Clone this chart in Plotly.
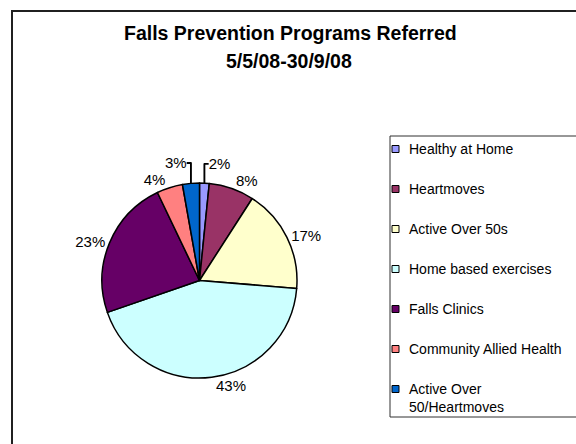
import plotly.graph_objects as go

# Data
labels = ["Healthy at Home", "Heartmoves", "Active Over 50s", "Home based exercises",
          "Falls Clinics", "Community Allied Health", "Active Over 50/Heartmoves"]
legend_text = ["Healthy at Home", "Heartmoves", "Active Over 50s", "Home based exercises",
               "Falls Clinics", "Community Allied Health", "Active Over<br>50/Heartmoves"]
values = [1.6, 7.5, 17.2, 43.4, 23.2, 4.3, 2.8]
colors = ["#9999FF", "#993366", "#FFFFCC", "#CCFFFF", "#660066", "#FF8080", "#0066CC"]
title_lines = ["Falls Prevention Programs Referred", "5/5/08-30/9/08"]

W, H = 576, 444
FONT = "Liberation Sans, Arial, sans-serif"

def px(x):
    return x / W

def py(y):
    return (H - y) / H

fig = go.Figure()
fig.add_trace(go.Pie(
    labels=labels, values=values, sort=False, direction="clockwise", rotation=0,
    marker=dict(colors=colors, line=dict(color="black", width=1.5)),
    texttemplate="%{percent:.0%}", textposition="outside",
    outsidetextfont=dict(family=FONT, size=15, color="black"),
    showlegend=False, hoverinfo="label+percent",
    domain=dict(x=[px(102), px(297)], y=[py(378), py(183)]),
))

shapes = []
annotations = []
# outer border
shapes.append(dict(type="rect", xref="paper", yref="paper",
                   x0=px(12), x1=px(W + 30), y0=py(H + 30), y1=py(11),
                   line=dict(color="#202020", width=2)))
# legend box
shapes.append(dict(type="rect", xref="paper", yref="paper",
                   x0=px(390), x1=px(W + 30), y0=py(417), y1=py(136),
                   line=dict(color="#303030", width=1)))
for i, (t, c) in enumerate(zip(legend_text, colors)):
    yc = 149 + 40 * i
    shapes.append(dict(type="rect", xref="paper", yref="paper",
                       x0=px(392), x1=px(399), y0=py(yc + 3.5), y1=py(yc - 3.5),
                       fillcolor=c, line=dict(color="black", width=1)))
    annotations.append(dict(text=t, xref="paper", yref="paper", x=px(407), y=py(yc - 10),
                            xanchor="left", yanchor="top", align="left", showarrow=False,
                            font=dict(family=FONT, size=14, color="black")))

annotations.append(dict(text="<b>%s</b>" % title_lines[0], xref="paper", yref="paper",
                        x=px(290), y=py(33), xanchor="center", yanchor="middle", showarrow=False,
                        font=dict(family=FONT, size=19.5, color="black")))
annotations.append(dict(text="<b>%s</b>" % title_lines[1], xref="paper", yref="paper",
                        x=px(289), y=py(61), xanchor="center", yanchor="middle", showarrow=False,
                        font=dict(family=FONT, size=19.5, color="black")))

fig.update_layout(
    width=W, height=H, margin=dict(l=0, r=0, t=0, b=0),
    paper_bgcolor="white", plot_bgcolor="white",
    shapes=shapes, annotations=annotations,
    font=dict(family=FONT, color="black"),
)
fig.write_html("out.html", config={"displayModeBar": False},
               post_script="document.body.style.margin='0';document.body.style.overflow='hidden';")
